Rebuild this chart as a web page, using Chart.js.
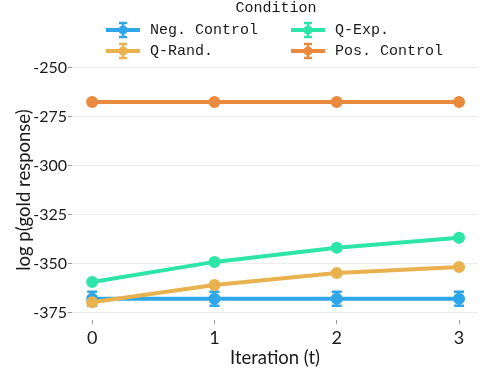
<!DOCTYPE html>
<html>
<head>
<meta charset="utf-8">
<script src="https://cdn.jsdelivr.net/npm/chart.js@4"></script>
<style>
  body { margin: 0; background: #fff; }
  #wrap { position: relative; width: 498px; height: 387px; }
  #legend { position: absolute; left: 0; top: 0; width: 498px; font-family: "Liberation Mono", "DejaVu Sans Mono", monospace; font-size: 15px; color: #1a1a1a; }
  #legend .title { position: absolute; left: 276px; top: 0px; transform: translateX(-50%); }
  #legend .item { position: absolute; display: flex; align-items: center; height: 20px; }
  #legend svg { margin-right: 10px; }
</style>
</head>
<body>
<div id="wrap">
  <canvas id="chart" width="498" height="387"></canvas>
  <div id="legend"><div class="title">Condition</div></div>
</div>
<script>
const iterations = [0, 1, 2, 3];
const seriesNames = ['Neg. Control', 'Q-Exp.', 'Q-Rand.', 'Pos. Control'];
const negControl = [-368, -368, -368, -368];
const qExp = [-359.5, -349.2, -342, -336.8];
const qRand = [-369.8, -361, -354.9, -351.8];
const posControl = [-267.5, -267.5, -267.5, -267.5];
const negErr = [3.6, 3.6, 3.6, 3.6];
const qExpErr = [0.8, 0.8, 0.8, 0.8];
const qRandErr = [0.8, 0.8, 0.8, 0.8];
const posErr = [0.5, 0.5, 0.5, 0.5];
const yTicks = [-375, -350, -325, -300, -275, -250];

const colors = ['#2fa6e8', '#2ee5a8', '#e9b24f', '#e98a3e'];
const values = [negControl, qExp, qRand, posControl];
const errors = [negErr, qExpErr, qRandErr, posErr];
// lower order is drawn on top
const orders = [4, 3, 2, 1];

const datasets = seriesNames.map((name, i) => ({
  label: name,
  data: iterations.map((t, j) => ({ x: t, y: values[i][j] })),
  errs: errors[i],
  borderColor: colors[i],
  backgroundColor: colors[i],
  borderWidth: 4,
  pointRadius: 4,
  pointHoverRadius: 4,
  tension: 0,
  order: orders[i],
}));

const errorBars = {
  id: 'errorBars',
  afterDatasetDraw(chart, args) {
    const ds = chart.data.datasets[args.index];
    const ys = chart.scales.y;
    const c = chart.ctx;
    c.save();
    c.strokeStyle = ds.borderColor;
    c.lineWidth = 2.5;
    args.meta.data.forEach((pt, j) => {
      const e = ds.errs[j];
      const top = ys.getPixelForValue(ds.data[j].y + e);
      const bot = ys.getPixelForValue(ds.data[j].y - e);
      c.beginPath();
      c.moveTo(pt.x, top); c.lineTo(pt.x, bot);
      c.moveTo(pt.x - 5, top); c.lineTo(pt.x + 5, top);
      c.moveTo(pt.x - 5, bot); c.lineTo(pt.x + 5, bot);
      c.stroke();
    });
    c.restore();
  }
};

const fontFamily = 'Lato, "Noto Sans", sans-serif';
const titleFont = { family: fontFamily, size: 18.5 };

new Chart(document.getElementById('chart').getContext('2d'), {
  type: 'line',
  data: { datasets },
  options: {
    responsive: false,
    animation: false,
    layout: { padding: { top: 60, right: 20, left: 9, bottom: 14 } },
    plugins: { legend: { display: false }, tooltip: { enabled: false } },
    scales: {
      x: {
        type: 'linear',
        min: -0.165,
        max: 3.155,
        afterBuildTicks: s => { s.ticks = iterations.map(v => ({ value: v })); },
        ticks: { color: '#1a1a1a', font: { family: fontFamily, size: 18 }, padding: 3 },
        grid: { drawOnChartArea: false, drawTicks: true, tickLength: 4, tickColor: '#999', tickWidth: 1 },
        border: { display: false },
        title: { display: true, text: 'Iteration (t)', color: '#1a1a1a', font: titleFont, padding: { top: -5 } }
      },
      y: {
        min: -379,
        max: -246,
        afterBuildTicks: s => { s.ticks = yTicks.map(v => ({ value: v })); },
        ticks: { color: '#1a1a1a', font: { family: fontFamily, size: 16 }, padding: 1 },
        grid: { color: '#ebebeb', lineWidth: 1, tickLength: 4, tickColor: '#999' },
        border: { display: false },
        title: { display: true, text: 'log p(gold response)', color: '#1a1a1a', font: titleFont, padding: { bottom: -3 } }
      }
    }
  },
  plugins: [errorBars]
});

// legend with error-bar icons, two columns
const legendPos = [[106, 20], [291, 20], [106, 41], [291, 41]];
const legend = document.getElementById('legend');
seriesNames.forEach((name, i) => {
  const item = document.createElement('div');
  item.className = 'item';
  item.style.left = legendPos[i][0] + 'px';
  item.style.top = legendPos[i][1] + 'px';
  const col = colors[i];
  item.innerHTML =
    `<svg width="34" height="20"><g stroke="${col}" fill="${col}">` +
    `<line x1="0" y1="10" x2="34" y2="10" stroke-width="4"/>` +
    `<line x1="17" y1="3" x2="17" y2="17" stroke-width="2.5"/>` +
    `<line x1="13" y1="3" x2="21" y2="3" stroke-width="2.5"/>` +
    `<line x1="13" y1="17" x2="21" y2="17" stroke-width="2.5"/>` +
    `<circle cx="17" cy="10" r="4"/></g></svg>` +
    `<span>${name}</span>`;
  legend.appendChild(item);
});
</script>
</body>
</html>
